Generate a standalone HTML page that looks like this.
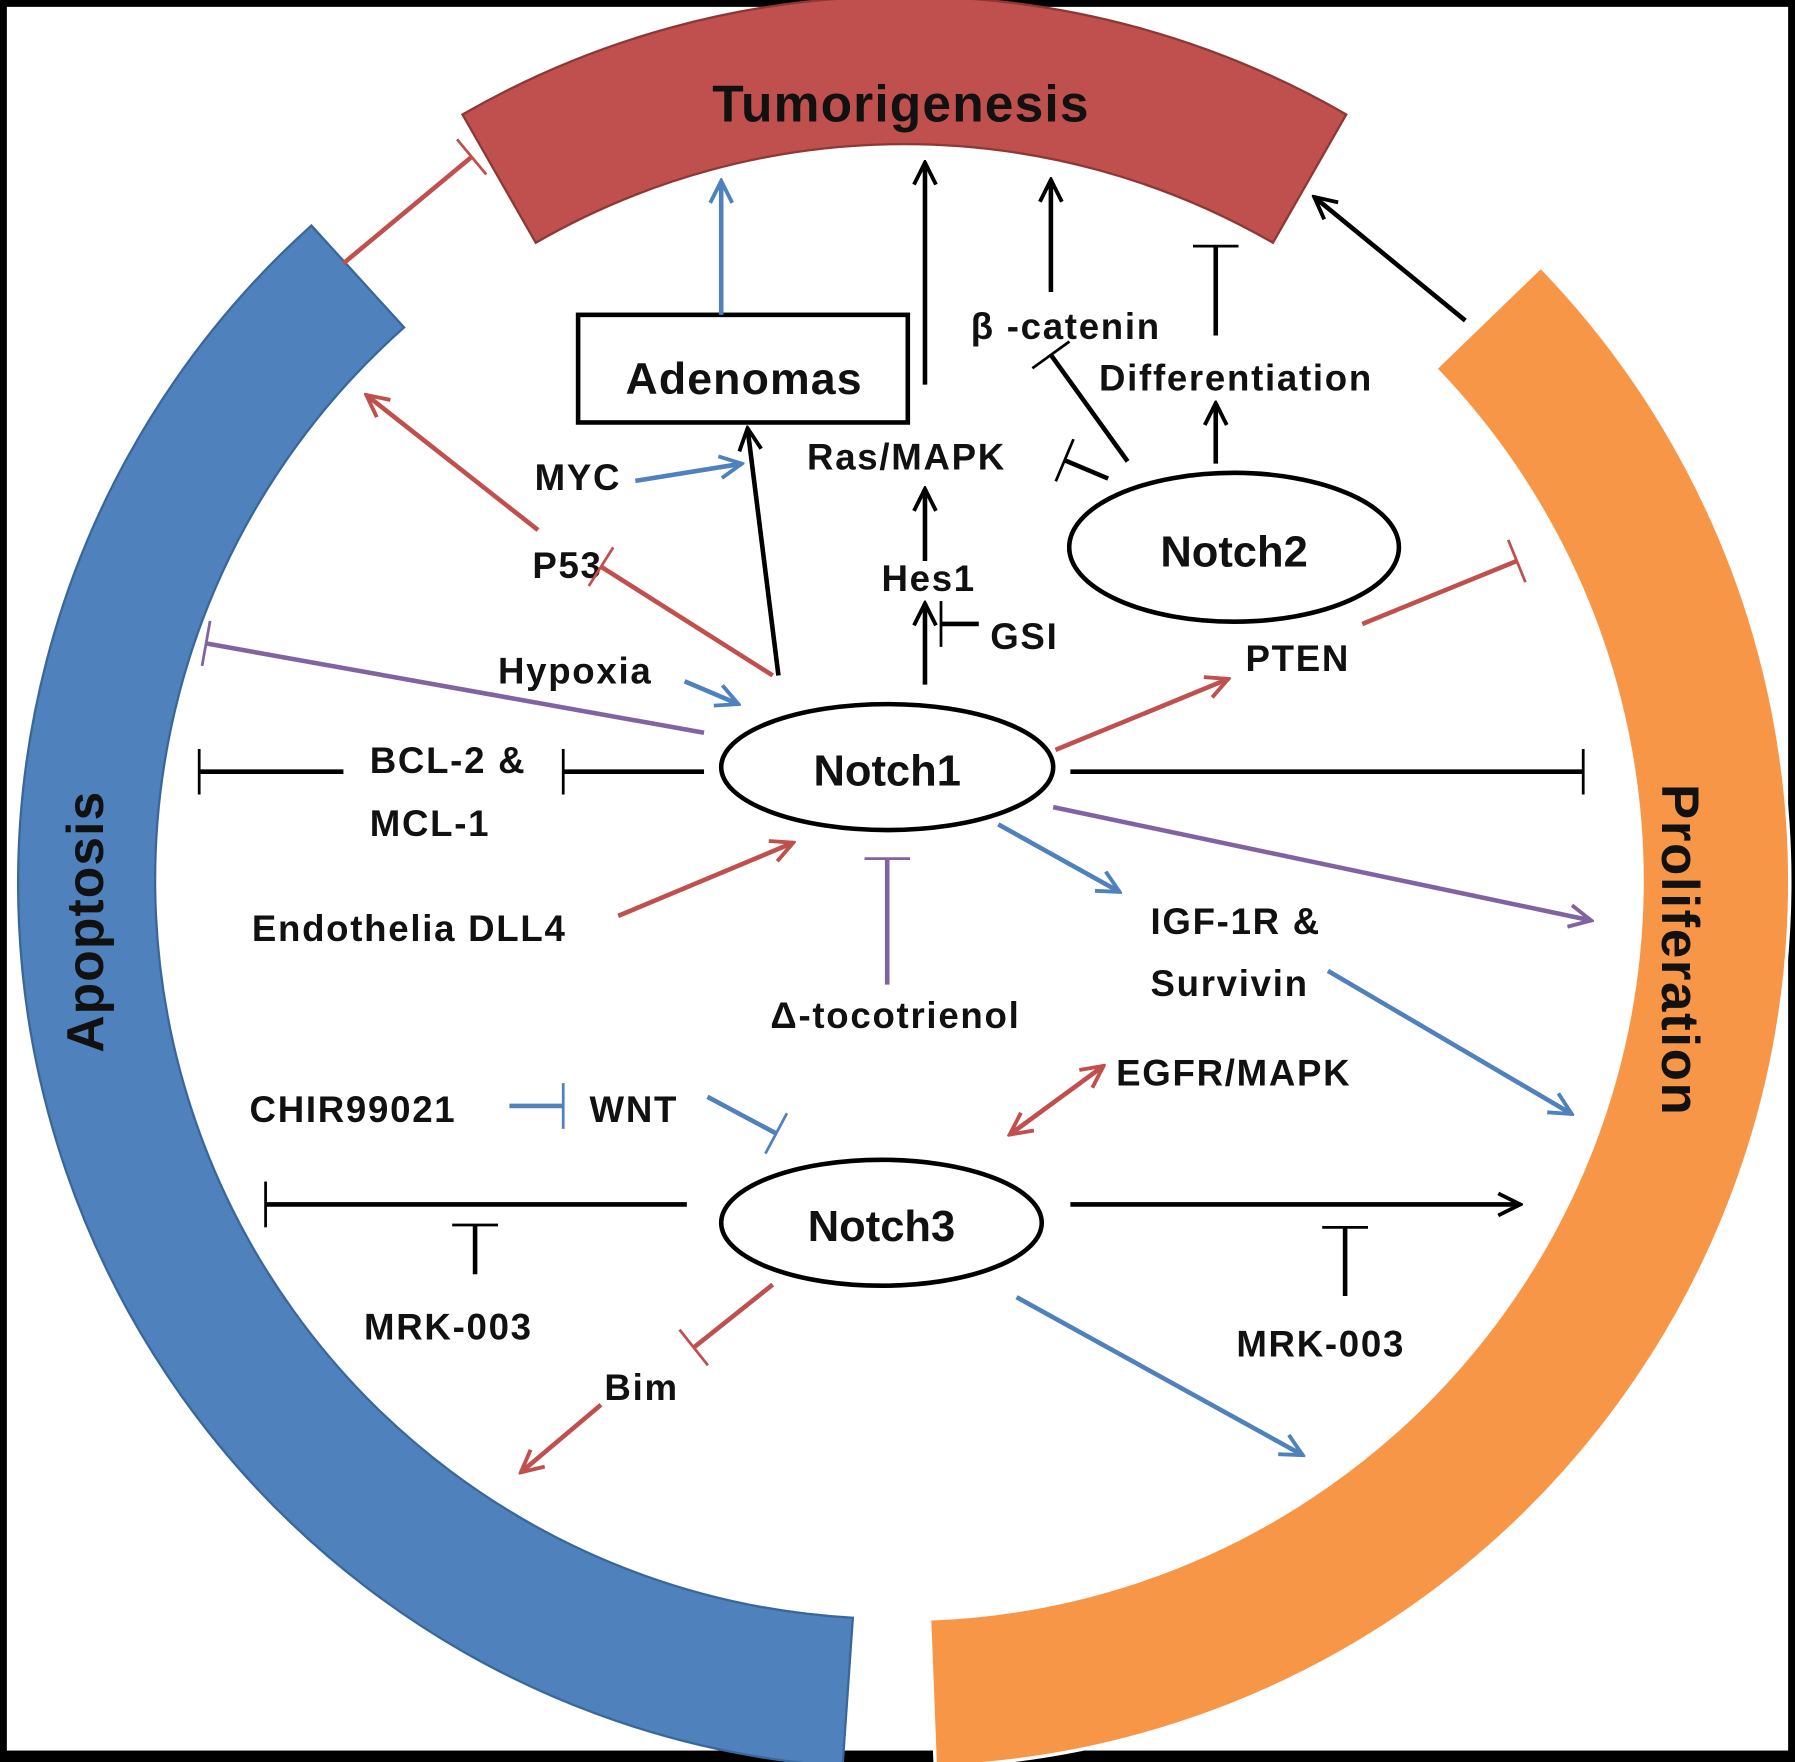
<!DOCTYPE html>
<html><head><meta charset="utf-8"><style>
html,body{margin:0;padding:0;background:#000;}
svg{display:block;}
text{font-family:"Liberation Sans",sans-serif;font-weight:bold;fill:#111;}
</style></head><body>
<svg width="1795" height="1762" viewBox="0 0 1568 1539" preserveAspectRatio="none" xmlns="http://www.w3.org/2000/svg">
<defs>
<marker id="ak" viewBox="0 0 10 10" refX="9" refY="5" markerWidth="6" markerHeight="6" orient="auto" markerUnits="strokeWidth"><path d="M1,1 L9,5 L1,9" fill="none" stroke="#000" stroke-width="1.4"/></marker>
<marker id="ar" viewBox="0 0 10 10" refX="9" refY="5" markerWidth="6" markerHeight="6" orient="auto" markerUnits="strokeWidth"><path d="M1,1 L9,5 L1,9" fill="none" stroke="#c0504d" stroke-width="1.4"/></marker>
<marker id="ab" viewBox="0 0 10 10" refX="9" refY="5" markerWidth="6" markerHeight="6" orient="auto" markerUnits="strokeWidth"><path d="M1,1 L9,5 L1,9" fill="none" stroke="#4f81bd" stroke-width="1.4"/></marker>
<marker id="ap" viewBox="0 0 10 10" refX="9" refY="5" markerWidth="6" markerHeight="6" orient="auto" markerUnits="strokeWidth"><path d="M1,1 L9,5 L1,9" fill="none" stroke="#8064a2" stroke-width="1.4"/></marker>
<marker id="arS" viewBox="0 0 10 10" refX="1" refY="5" markerWidth="6" markerHeight="6" orient="auto" markerUnits="strokeWidth"><path d="M9,1 L1,5 L9,9" fill="none" stroke="#c0504d" stroke-width="1.4"/></marker>
<marker id="tk" viewBox="0 0 4 20" refX="2" refY="10" markerWidth="2" markerHeight="10" orient="auto" markerUnits="strokeWidth"><path d="M2,0 L2,20" stroke="#000" stroke-width="1.2"/></marker>
<marker id="tr" viewBox="0 0 4 20" refX="2" refY="10" markerWidth="2" markerHeight="10" orient="auto" markerUnits="strokeWidth"><path d="M2,0 L2,20" stroke="#c0504d" stroke-width="1.2"/></marker>
<marker id="tb" viewBox="0 0 4 20" refX="2" refY="10" markerWidth="2" markerHeight="10" orient="auto" markerUnits="strokeWidth"><path d="M2,0 L2,20" stroke="#4f81bd" stroke-width="1.2"/></marker>
<marker id="tp" viewBox="0 0 4 20" refX="2" refY="10" markerWidth="2" markerHeight="10" orient="auto" markerUnits="strokeWidth"><path d="M2,0 L2,20" stroke="#8064a2" stroke-width="1.2"/></marker>
</defs>
<rect x="6" y="6" width="1556" height="1523" fill="#fff"/>

<path d="M 736,1543 A 773 773 0 0 1 272,197 L 353,286 A 645 645 0 0 0 745,1413 Z" fill="#4f81bd" stroke="#3a6799" stroke-width="2"/>
<path d="M 1346,233 A 773 773 0 0 1 817,1543 L 812,1414 A 645 645 0 0 0 1254,322 Z" fill="#f79646" stroke="#fff" stroke-width="3"/>
<path d="M 404,100 A 773 773 0 0 1 1176,100 L 1112,212 A 645 645 0 0 0 468,212 Z" fill="#c0504d" stroke="#8c3836" stroke-width="2"/>

<text x="787" y="106" font-size="45" text-anchor="middle" letter-spacing="1">Tumorigenesis</text>
<text transform="translate(90,805) rotate(-90)" font-size="45" text-anchor="middle" letter-spacing="1">Apoptosis</text>
<text transform="translate(1452,830) rotate(90)" font-size="46" text-anchor="middle" letter-spacing="1.5">Proliferation</text>

<rect x="505" y="275" width="288" height="94" fill="#fff" stroke="#000" stroke-width="4"/>
<text x="650" y="344" font-size="39" text-anchor="middle" letter-spacing="1">Adenomas</text>
<ellipse cx="775" cy="670" rx="145" ry="55" fill="#fff" stroke="#000" stroke-width="4"/>
<text x="775" y="686" font-size="38" text-anchor="middle">Notch1</text>
<ellipse cx="1078" cy="478" rx="144" ry="65" fill="#fff" stroke="#000" stroke-width="4"/>
<text x="1078" y="495" font-size="38" text-anchor="middle">Notch2</text>
<ellipse cx="770" cy="1068" rx="140" ry="55" fill="#fff" stroke="#000" stroke-width="4"/>
<text x="770" y="1084" font-size="38" text-anchor="middle">Notch3</text>

<g font-size="32" letter-spacing="1.5">
<text x="467" y="428">MYC</text>
<text x="465" y="505">P53</text>
<text x="435" y="597">Hypoxia</text>
<text x="323" y="675">BCL-2 &amp;</text>
<text x="323" y="730">MCL-1</text>
<text x="220" y="822">Endothelia DLL4</text>
<text x="673" y="898">Δ-tocotrienol</text>
<text x="1005" y="816">IGF-1R &amp;</text>
<text x="1005" y="870">Survivin</text>
<text x="975" y="948">EGFR/MAPK</text>
<text x="218" y="980">CHIR99021</text>
<text x="515" y="980">WNT</text>
<text x="318" y="1170">MRK-003</text>
<text x="1080" y="1185">MRK-003</text>
<text x="528" y="1223">Bim</text>
<text x="705" y="410">Ras/MAPK</text>
<text x="770" y="516">Hes1</text>
<text x="865" y="567">GSI</text>
<text x="848" y="296">β -catenin</text>
<text x="960" y="341">Differentiation</text>
<text x="1088" y="586">PTEN</text>
</g>

<g fill="none" stroke-width="4">
<line x1="300" y1="230" x2="412" y2="137" stroke="#c0504d" marker-end="url(#tr)"/>
<line x1="630" y1="275" x2="630" y2="158" stroke="#4f81bd" marker-end="url(#ab)"/>
<line x1="808" y1="336" x2="808" y2="142" stroke="#000" marker-end="url(#ak)"/>
<line x1="918" y1="255" x2="918" y2="157" stroke="#000" marker-end="url(#ak)"/>
<line x1="1062" y1="293" x2="1062" y2="215" stroke="#000" marker-end="url(#tk)"/>
<line x1="1280" y1="280" x2="1148" y2="172" stroke="#000" marker-end="url(#ak)"/>
<line x1="470" y1="463" x2="320" y2="345" stroke="#c0504d" marker-end="url(#ar)"/>
<line x1="555" y1="420" x2="648" y2="405" stroke="#4f81bd" marker-end="url(#ab)"/>
<line x1="680" y1="590" x2="653" y2="374" stroke="#000" marker-end="url(#ak)"/>
<line x1="808" y1="598" x2="808" y2="527" stroke="#000" marker-end="url(#ak)"/>
<line x1="808" y1="490" x2="808" y2="427" stroke="#000" marker-end="url(#ak)"/>
<line x1="855" y1="545" x2="822" y2="545" stroke="#000" marker-end="url(#tk)"/>
<line x1="968" y1="418" x2="930" y2="402" stroke="#000" marker-end="url(#tk)"/>
<line x1="985" y1="403" x2="918" y2="310" stroke="#000" marker-end="url(#tk)"/>
<line x1="1062" y1="405" x2="1062" y2="352" stroke="#000" marker-end="url(#ak)"/>
<line x1="675" y1="590" x2="525" y2="495" stroke="#c0504d" marker-end="url(#tr)"/>
<line x1="598" y1="595" x2="645" y2="615" stroke="#4f81bd" marker-end="url(#ab)"/>
<line x1="615" y1="640" x2="180" y2="562" stroke="#8064a2" marker-end="url(#tp)"/>
<line x1="615" y1="674" x2="492" y2="674" stroke="#000" marker-end="url(#tk)"/>
<line x1="300" y1="674" x2="174" y2="674" stroke="#000" marker-end="url(#tk)"/>
<line x1="540" y1="800" x2="693" y2="736" stroke="#c0504d" marker-end="url(#ar)"/>
<line x1="775" y1="860" x2="775" y2="750" stroke="#8064a2" marker-end="url(#tp)"/>
<line x1="922" y1="655" x2="1073" y2="593" stroke="#c0504d" marker-end="url(#ar)"/>
<line x1="1190" y1="545" x2="1325" y2="490" stroke="#c0504d" marker-end="url(#tr)"/>
<line x1="935" y1="674" x2="1383" y2="674" stroke="#000" marker-end="url(#tk)"/>
<line x1="920" y1="705" x2="1390" y2="804" stroke="#8064a2" marker-end="url(#ap)"/>
<line x1="872" y1="720" x2="978" y2="779" stroke="#4f81bd" marker-end="url(#ab)"/>
<line x1="1160" y1="848" x2="1373" y2="973" stroke="#4f81bd" marker-end="url(#ab)"/>
<line x1="882" y1="991" x2="964" y2="931" stroke="#c0504d" marker-start="url(#arS)" marker-end="url(#ar)"/>
<line x1="445" y1="966" x2="492" y2="966" stroke="#4f81bd" marker-end="url(#tb)"/>
<line x1="618" y1="958" x2="678" y2="990" stroke="#4f81bd" marker-end="url(#tb)"/>
<line x1="600" y1="1052" x2="232" y2="1052" stroke="#000" marker-end="url(#tk)"/>
<line x1="415" y1="1113" x2="415" y2="1070" stroke="#000" marker-end="url(#tk)"/>
<line x1="935" y1="1052" x2="1328" y2="1052" stroke="#000" marker-end="url(#ak)"/>
<line x1="1175" y1="1132" x2="1175" y2="1072" stroke="#000" marker-end="url(#tk)"/>
<line x1="675" y1="1122" x2="606" y2="1177" stroke="#c0504d" marker-end="url(#tr)"/>
<line x1="525" y1="1227" x2="455" y2="1286" stroke="#c0504d" marker-end="url(#ar)"/>
<line x1="888" y1="1133" x2="1138" y2="1271" stroke="#4f81bd" marker-end="url(#ab)"/>
</g>
</svg>
</body></html>
